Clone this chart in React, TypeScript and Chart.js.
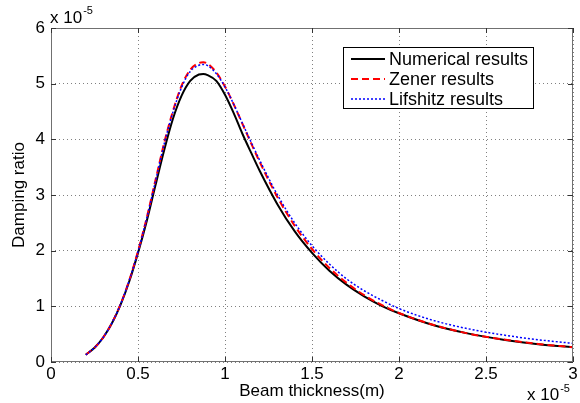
import React, { useEffect, useRef } from "react";
import { Chart, registerables } from "chart.js";

Chart.register(...registerables);

// Beam thickness (x 1e-5 m)
const thickness = [0.2, 0.25, 0.3, 0.35, 0.4, 0.45, 0.5, 0.55, 0.6, 0.65, 0.7, 0.75, 0.8, 0.85, 0.875, 0.9, 0.95, 1.0, 1.05, 1.1, 1.15, 1.2, 1.3, 1.4, 1.5, 1.6, 1.7, 1.8, 1.9, 2.0, 2.2, 2.4, 2.6, 2.8, 3.0];
// Damping ratio (x 1e-5)
const numerical = [0.13, 0.255, 0.44, 0.695, 1.03, 1.45, 1.96, 2.53, 3.17, 3.8, 4.36, 4.78, 5.05, 5.165, 5.175, 5.155, 5.05, 4.8, 4.47, 4.1, 3.76, 3.43, 2.84, 2.35, 1.96, 1.64, 1.385, 1.18, 1.01, 0.875, 0.66, 0.51, 0.4, 0.32, 0.268];
const zener = [0.13, 0.255, 0.44, 0.7, 1.04, 1.47, 1.99, 2.59, 3.26, 3.93, 4.5, 4.96, 5.25, 5.37, 5.385, 5.36, 5.2, 4.95, 4.63, 4.28, 3.93, 3.59, 2.97, 2.45, 2.03, 1.69, 1.42, 1.2, 1.025, 0.88, 0.665, 0.51, 0.405, 0.325, 0.265];
const lifshitz = [0.13, 0.255, 0.44, 0.7, 1.04, 1.47, 1.98, 2.58, 3.24, 3.91, 4.48, 4.93, 5.22, 5.33, 5.345, 5.325, 5.18, 4.94, 4.63, 4.29, 3.95, 3.62, 3.01, 2.5, 2.09, 1.76, 1.49, 1.28, 1.11, 0.96, 0.745, 0.595, 0.485, 0.4, 0.335];

const seriesNames = ["Numerical results", "Zener results", "Lifshitz results"];
const xTickValues = [0, 0.5, 1, 1.5, 2, 2.5, 3];
const xTickLabels = ["0", "0.5", "1", "1.5", "2", "2.5", "3"];
const yTickValues = [0, 1, 2, 3, 4, 5, 6];
const yTickLabels = ["0", "1", "2", "3", "4", "5", "6"];
const xTitle = "Beam thickness(m)";
const yTitle = "Damping ratio";
const exponentBase = "x 10";
const exponentPower = "-5";

const FONT = '"Liberation Sans", Arial, sans-serif';

const colors = ["#000000", "#ff0000", "#0000ff"];
const dashes = [[], [7, 4], [2, 2]];
const widths = [2, 2, 1.5];

const overlay = {
  id: "overlay",
  afterDraw(chart: any) {
    const { ctx, chartArea } = chart;
    const { left, right, top, bottom } = chartArea;
    const xs = chart.scales.x;
    const ys = chart.scales.y;
    ctx.save();
    ctx.setLineDash([]);
    ctx.strokeStyle = "#707070";
    ctx.lineWidth = 1;
    ctx.strokeRect(left + 0.5, top + 0.5, right - left - 1, bottom - top - 1);
    // inner ticks
    ctx.strokeStyle = "#333";
    ctx.beginPath();
    xTickValues.forEach((v) => {
      const px = Math.round(xs.getPixelForValue(v)) + 0.5;
      ctx.moveTo(px, bottom);
      ctx.lineTo(px, bottom - 5);
      ctx.moveTo(px, top);
      ctx.lineTo(px, top + 5);
    });
    yTickValues.forEach((v) => {
      const py = Math.round(ys.getPixelForValue(v)) + 0.5;
      ctx.moveTo(left, py);
      ctx.lineTo(left + 5, py);
      ctx.moveTo(right, py);
      ctx.lineTo(right - 5, py);
    });
    ctx.stroke();

    // exponent labels
    ctx.fillStyle = "#000";
    ctx.textAlign = "left";
    ctx.textBaseline = "alphabetic";
    ctx.font = `17px ${FONT}`;
    ctx.fillText(exponentBase, 50, 23);
    let w = ctx.measureText(exponentBase).width;
    ctx.font = `11px ${FONT}`;
    ctx.fillText(exponentPower, 50 + w + 1, 14);
    ctx.font = `17px ${FONT}`;
    ctx.fillText(exponentBase, 527, 400);
    w = ctx.measureText(exponentBase).width;
    ctx.font = `11px ${FONT}`;
    ctx.fillText(exponentPower, 527 + w + 1, 392);

    // legend
    const lx = 343, ly = 47, lw = 191, lh = 62;
    ctx.fillStyle = "#fff";
    ctx.fillRect(lx, ly, lw, lh);
    ctx.strokeStyle = "#000";
    ctx.lineWidth = 1;
    ctx.strokeRect(lx + 0.5, ly + 0.5, lw - 1, lh - 1);
    ctx.font = `18px ${FONT}`;
    ctx.textBaseline = "middle";
    seriesNames.forEach((name, i) => {
      const y = ly + 12 + i * 20;
      ctx.save();
      ctx.strokeStyle = colors[i];
      ctx.lineWidth = widths[i];
      ctx.setLineDash(dashes[i]);
      ctx.beginPath();
      ctx.moveTo(351, y);
      ctx.lineTo(385, y);
      ctx.stroke();
      ctx.restore();
      ctx.fillStyle = "#000";
      ctx.fillText(name, 389, y + 1);
    });
    ctx.restore();
  },
};

export default function App() {
  const ref = useRef<HTMLCanvasElement>(null);
  useEffect(() => {
    document.body.style.margin = "0";
    const series = [numerical, zener, lifshitz];
    const chart = new Chart(ref.current as HTMLCanvasElement, {
      type: "line",
      data: {
        datasets: series.map((vals, i) => ({
          label: seriesNames[i],
          data: thickness.map((x, j) => ({ x, y: vals[j] })),
          borderColor: colors[i],
          borderWidth: widths[i],
          borderDash: dashes[i],
          pointRadius: 0,
          fill: false,
          cubicInterpolationMode: "monotone" as const,
          order: 3 - i,
        })),
      },
      options: {
        animation: false,
        responsive: false,
        layout: { padding: { top: 28, right: 7, left: 0, bottom: 0 } },
        plugins: { legend: { display: false }, tooltip: { enabled: false } },
        scales: {
          x: {
            type: "linear",
            min: 0,
            max: 3,
            afterBuildTicks: (s: any) => {
              s.ticks = xTickValues.map((v) => ({ value: v }));
            },
            afterFit: (s: any) => {
              s.height = 41;
            },
            ticks: {
              callback: (_v: any, i: number) => xTickLabels[i],
              color: "#000",
              font: { family: FONT, size: 17 },
              padding: 2,
              maxRotation: 0,
            },
            grid: { color: "#808080", lineWidth: 1, drawTicks: false },
            border: { display: false, dash: [1, 3] },
            title: {
              display: true,
              text: xTitle,
              color: "#000",
              font: { family: FONT, size: 17 },
              padding: { top: 0, bottom: 1 },
            },
          },
          y: {
            type: "linear",
            min: 0,
            max: 6,
            afterBuildTicks: (s: any) => {
              s.ticks = yTickValues.map((v) => ({ value: v }));
            },
            afterFit: (s: any) => {
              s.width = 51;
            },
            ticks: {
              callback: (_v: any, i: number) => yTickLabels[i],
              color: "#000",
              font: { family: FONT, size: 17 },
              padding: 6,
            },
            grid: { color: "#808080", lineWidth: 1, drawTicks: false },
            border: { display: false, dash: [1, 3] },
            title: {
              display: true,
              text: yTitle,
              color: "#000",
              font: { family: FONT, size: 17 },
              padding: { top: 9, bottom: 0 },
            },
          },
        },
      },
      plugins: [overlay],
    });
    return () => chart.destroy();
  }, []);
  return (
    <div style={{ position: "absolute", left: 0, top: 0, width: 580, height: 403, background: "#fff" }}>
      <canvas ref={ref} width={580} height={403} />
    </div>
  );
}
